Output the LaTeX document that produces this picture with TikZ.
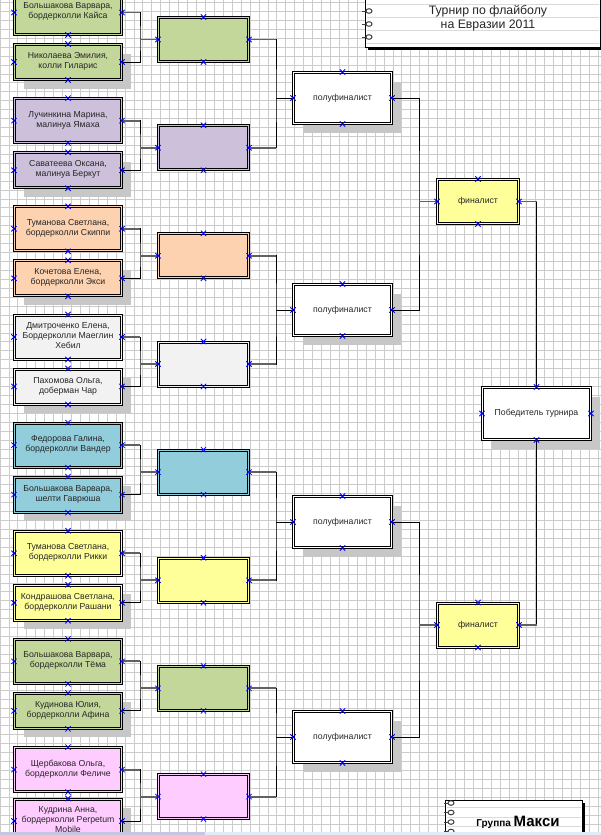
\documentclass[tikz,border=0pt]{standalone}
\usepackage{fontspec}
\setmainfont{Liberation Sans}
\usetikzlibrary{shapes.misc,shadows}
\definecolor{cGreen}{HTML}{C4D79B}
\definecolor{cLilac}{HTML}{CCC0DA}
\definecolor{cPeach}{HTML}{FCD2B0}
\definecolor{cGrey}{HTML}{F2F2F2}
\definecolor{cAqua}{HTML}{92CDDC}
\definecolor{cYellow}{HTML}{FFFF99}
\definecolor{cPink}{HTML}{FFCCFF}
\definecolor{cStripA}{HTML}{C6C6E2}
\definecolor{cStripB}{HTML}{E2ECF8}

\begin{document}
\begin{tikzpicture}[x=1pt,y=-1pt,every node/.style={font=\fontsize{8.7}{10}\selectfont},
  gridline/.style={draw=black!20,line width=.8pt},
  box/.style={rectangle,draw=black,line width=1pt,double distance=1pt,inner sep=0pt,align=center,text=black!85},
  lift/.style={execute at end node={\\\strut}},
  shadowed/.style={drop shadow={shadow xshift=9pt,shadow yshift=-9pt,fill=black!22,opacity=1}},
  team/.style={box,lift,minimum width=107pt,minimum height=44pt},
  pairbox/.style={box,minimum width=90pt,minimum height=44pt},
  fgreen/.style={fill=cGreen,double=cGreen},
  flilac/.style={fill=cLilac,double=cLilac},
  fpeach/.style={fill=cPeach,double=cPeach},
  fgrey/.style={fill=cGrey,double=cGrey},
  faqua/.style={fill=cAqua,double=cAqua},
  fyellow/.style={fill=cYellow,double=cYellow},
  fpink/.style={fill=cPink,double=cPink},
  fwhite/.style={fill=white,double=white},
  wire/.style={draw=black,line width=1pt},
  wirebold/.style={draw=black!62,line width=1.9pt},
  cpt/.style={cross out,draw=blue,line width=.8pt,minimum size=4.5pt,inner sep=0pt},
  notepad/.style={rectangle,draw=black,line width=1pt,fill=white,drop shadow={shadow xshift=2.5pt,shadow yshift=-2.5pt,fill=black,opacity=1}},
  rule/.style={draw=black!15,line width=1pt},
  ring/.style={draw=black!75,line width=1pt}]
\useasboundingbox (0,0) rectangle (601,835);
\clip (0,0) rectangle (601,835);
\fill[white] (0,0) rectangle (601,835);
% grid
\foreach \k in {0,...,67} \draw[gridline] (8.93*\k,0) -- (8.93*\k,835);
\foreach \k in {0,...,93} \draw[gridline] (0,2.5+8.93*\k) -- (601,2.5+8.93*\k);

% teams
\node[team,fgreen] (t1) at (68,12.5) {Большакова Варвара,\\бордерколли Кайса};
\node[team,fgreen,shadowed,minimum height=35pt] (t2) at (68,62) {Николаева Эмилия,\\колли Гиларис};
\node[team,flilac] (t3) at (68,120.6) {Лучинкина Марина,\\малинуа Ямаха};
\node[team,flilac,shadowed,minimum height=35pt] (t4) at (68,170.2) {Саватеева Оксана,\\малинуа Беркут};
\node[team,fpeach] (t5) at (68,228.8) {Туманова Светлана,\\бордерколли Скиппи};
\node[team,fpeach,shadowed,minimum height=35pt] (t6) at (68,278.3) {Кочетова Елена,\\бордерколли Экси};
\node[team,fgrey] (t7) at (68,337) {Дмитроченко Елена,\\Бордерколли Маеглин\\Хебил};
\node[team,fgrey,shadowed,minimum height=35pt] (t8) at (68,386.5) {Пахомова Ольга,\\доберман Чар};
\node[team,faqua] (t9) at (68,445.1) {Федорова Галина,\\бордерколли Вандер};
\node[team,faqua,shadowed,minimum height=35pt] (t10) at (68,494.6) {Большакова Варвара,\\шелти Гаврюша};
\node[team,fyellow] (t11) at (68,553.3) {Туманова Светлана,\\бордерколли Рикки};
\node[team,fyellow,shadowed,minimum height=35pt] (t12) at (68,602.8) {Кондрашова Светлана,\\бордерколли Рашани};
\node[team,fgreen] (t13) at (68,661.4) {Большакова Варвара,\\бордерколли Тёма};
\node[team,fgreen,shadowed,minimum height=35pt] (t14) at (68,710.9) {Кудинова Юлия,\\бордерколли Афина};
\node[team,fpink] (t15) at (68,769.6) {Щербакова Ольга,\\бордерколли Феличе};
\node[team,fpink,shadowed] (t16) at (68,821) {Кудрина Анна,\\бордерколли Perpetum\\Mobile};

% pairs
\node[pairbox,fgreen] (r1) at (203.5,39.5) {};
\node[pairbox,flilac] (r2) at (203.5,147.7) {};
\node[pairbox,fpeach] (r3) at (203.5,255.8) {};
\node[pairbox,fgrey] (r4) at (203.5,364) {};
\node[pairbox,faqua] (r5) at (203.5,472.1) {};
\node[pairbox,fyellow] (r6) at (203.5,580.3) {};
\node[pairbox,fgreen] (r7) at (203.5,688.4) {};
\node[pairbox,fpink] (r8) at (203.5,796.6) {};

% semifinal, final, winner
\node[box,fwhite,shadowed,minimum width=98pt,minimum height=51pt] (s1) at (342.5,98) {полуфиналист};
\node[box,fwhite,shadowed,minimum width=98pt,minimum height=51pt] (s2) at (342.5,310) {полуфиналист};
\node[box,fwhite,shadowed,minimum width=98pt,minimum height=51pt] (s3) at (342.5,522) {полуфиналист};
\node[box,fwhite,shadowed,minimum width=98pt,minimum height=51pt] (s4) at (342.5,737) {полуфиналист};
\node[box,fyellow,lift,minimum width=81pt,minimum height=44pt] (f1) at (478,201.5) {финалист};
\node[box,fyellow,lift,minimum width=81pt,minimum height=44pt] (f2) at (478,625) {финалист};
\node[box,fwhite,shadowed,lift,minimum width=108pt,minimum height=52pt] (w) at (536.5,413.5) {Победитель турнира};

% junctions
\coordinate (jr1) at (140,39.5);
\coordinate (jr2) at (140,147.7);
\coordinate (jr3) at (140,255.8);
\coordinate (jr4) at (140,364);
\coordinate (jr5) at (140,472.1);
\coordinate (jr6) at (140,580.3);
\coordinate (jr7) at (140,688.4);
\coordinate (jr8) at (140,796.6);
\coordinate (js1) at (276,98);
\coordinate (js2) at (276,310);
\coordinate (js3) at (276,522);
\coordinate (js4) at (276,737);
\coordinate (jf1) at (419,201.5);
\coordinate (jf2) at (419,625);

% first round
\draw[wire] (t1.east) -| (jr1) |- (t2.east);
\draw[wirebold] (t1.east) -- (t1.east -| jr1) (jr1) -- (r1.west);
\draw[wire] (t3.east) -| (jr2) |- (t4.east);
\draw[wirebold] (t3.east) -- (t3.east -| jr2) (jr2) -- (r2.west);
\draw[wire] (t5.east) -| (jr3) |- (t6.east);
\draw[wirebold] (t5.east) -- (t5.east -| jr3) (jr3) -- (r3.west);
\draw[wire] (t7.east) -| (jr4) |- (t8.east);
\draw[wirebold] (t7.east) -- (t7.east -| jr4) (jr4) -- (r4.west);
\draw[wire] (t9.east) -| (jr5) |- (t10.east);
\draw[wirebold] (t9.east) -- (t9.east -| jr5) (jr5) -- (r5.west);
\draw[wire] (t11.east) -| (jr6) |- (t12.east);
\draw[wirebold] (t11.east) -- (t11.east -| jr6) (jr6) -- (r6.west);
\draw[wire] (t13.east) -| (jr7) |- (t14.east);
\draw[wirebold] (t13.east) -- (t13.east -| jr7) (jr7) -- (r7.west);
\draw[wire] (t15.east) -| (jr8) |- (t16.east);
\draw[wirebold] (t15.east) -- (t15.east -| jr8) (jr8) -- (r8.west);

% second round
\draw[wire] (r1.east) -| (js1) |- (r2.east) (js1) -- (s1.west);
\draw[wirebold] (r1.east) -- (r1.east -| js1) (r2.east) -- (r2.east -| js1);
\draw[wire] (r3.east) -| (js2) |- (r4.east) (js2) -- (s2.west);
\draw[wirebold] (r3.east) -- (r3.east -| js2) (r4.east) -- (r4.east -| js2);
\draw[wire] (r5.east) -| (js3) |- (r6.east) (js3) -- (s3.west);
\draw[wirebold] (r5.east) -- (r5.east -| js3) (r6.east) -- (r6.east -| js3);
\draw[wire] (r7.east) -| (js4) |- (r8.east) (js4) -- (s4.west);
\draw[wirebold] (r7.east) -- (r7.east -| js4) (r8.east) -- (r8.east -| js4);

% semifinals
\draw[wire] (s1.east) -| (jf1) |- (s2.east);
\draw[wirebold] (jf1) -- (f1.west);
\draw[wire] (s3.east) -| (jf2) |- (s4.east);
\draw[wirebold] (jf2) -- (f2.west);

% final
\draw[wire] (f1.east) -| (w.north);
\draw[wire] (f2.east) -| (w.south);
\draw[wirebold] (f1.east) -- (f1.east -| w.north) (f2.east) -- (f2.east -| w.south);

% connection points
\foreach \n in {t1,t2,t3,t4,t5,t6,t7,t8,t9,t10,t11,t12,t13,t14,t15,t16,r1,r2,r3,r4,r5,r6,r7,r8,s1,s2,s3,s4,f1,f2,w}
  \foreach \a in {north,south,east,west}
    \node[cpt] (\n-\a) at (\n.\a) {};

% title
\node[notepad,minimum width=235pt,minimum height=54pt] (title) at (482.5,20) {};
\foreach \y in {4.5,17.5,30.5,43.5} \draw[rule] (367,\y) -- (599,\y);
\foreach \y in {11,24,37} {\draw[ring] (369,\y) ellipse [x radius=3,y radius=2.3]; \draw[ring] (362,\y) -- (366,\y);}
\node[align=center,text=black!85,font=\fontsize{12.3}{14}\selectfont] (heading) at (488,18) {Турнир по флайболу\\на Евразии 2011};

% group
\node[notepad,minimum width=137pt,minimum height=50pt] (grp) at (513.5,825) {};
\foreach \y in {807.5,817,826.5} \draw[rule] (447,\y) -- (581,\y);
\foreach \y in {803,812.5,822,831.5} {\draw[ring] (451,\y) ellipse [x radius=3,y radius=2.3]; \draw[ring] (444,\y) -- (448,\y);}
\node[anchor=base,text=black] (grptxt) at (518,826) {\fontsize{10}{12}\selectfont\bfseries Группа\ \fontsize{15}{18}\selectfont Макси};

\fill[cStripA] (0,832) rectangle (205,835);
\fill[cStripB] (205,832) rectangle (601,835);
\end{tikzpicture}
\end{document}
